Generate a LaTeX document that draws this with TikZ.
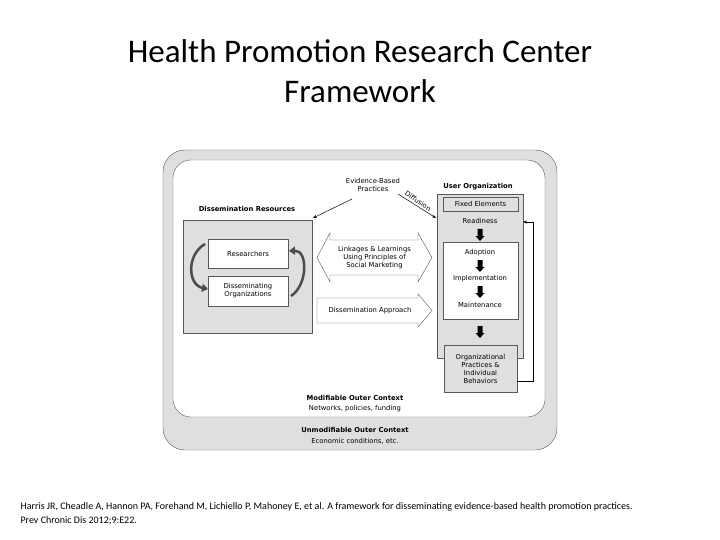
\documentclass[tikz,border=0pt]{standalone}
\usepackage{fontspec}
\setmainfont{DejaVu Sans}
\newfontfamily\titlefont{Carlito}
\usetikzlibrary{arrows.meta}
\tikzset{
 lbl/.style={font=\fontsize{6.8}{8}\selectfont,align=center,inner sep=0pt},
 blbl/.style={lbl,font=\fontsize{6.8}{8}\selectfont\bfseries},
 gbox/.style={draw=gray!70!black,fill=gray!25},
 wbox/.style={draw=gray!70!black,fill=white},
 tarr/.style={-{Stealth[length=4pt]},line width=0.5pt},
 blockarr/.style={draw=gray!70!black,fill=white}
}
\newcommand{\downarr}[2]{\fill (#1-2.5,#2) -- ++(5,0) -- ++(0,7) -- ++(2,0) -- (#1,#2+12) -- (#1-4.5,#2+7) -- ++(2,0) -- cycle;}
\begin{document}
\begin{tikzpicture}[x=1pt,y=-1pt]
\useasboundingbox (0,0) rectangle (720,540);
\node[font=\titlefont\fontsize{33}{40}\selectfont,align=center] (title) at (360,71) {Health Promotion Research Center\\Framework};
\draw[gray!70!black,fill=gray!25,rounded corners=22pt] (163,150) rectangle (557,450);
\draw[gray!70!black,fill=white,rounded corners=18pt] (173,160) rectangle (545,417);
\node[blbl] (mod) at (355,398) {Modifiable Outer Context};
\node[lbl] (modt) at (355,409) {Networks, policies, funding};
\node[blbl] (unm) at (355,430) {Unmodifiable Outer Context};
\node[lbl] (unmt) at (355,441) {Economic conditions, etc.};
% dissemination resources
\node[blbl] (drl) at (247,209) {Dissemination Resources};
\draw[gbox] (183,220) rectangle (312,333);
\node[wbox,minimum width=80pt,minimum height=29pt,lbl] (res) at (248,253.5) {Researchers};
\node[wbox,minimum width=80pt,minimum height=30pt,lbl] (dorg) at (248,291) {Disseminating\\Organizations};
\draw[gray!60!black,line width=2.5pt,-{Triangle[length=6pt,width=8pt]}] (205,244) .. controls (186,255) and (188,285) .. (208,289);
\draw[gray!60!black,line width=2.5pt,-{Triangle[length=6pt,width=8pt]}] (291,296) .. controls (308,285) and (308,250) .. (289,251);
% evidence
\node[lbl] (ebp) at (373,185) {Evidence-Based\\Practices};
\node[blbl] (uol) at (478,187) {User Organization};
% user org
\draw[gbox] (437,194) rectangle (523,358);
\node[gbox,minimum width=75pt,minimum height=14pt,lbl] (fix) at (480.5,204) {Fixed Elements};
\node[lbl] (rdy) at (480,221) {Readiness};
\node[wbox,minimum width=75pt,minimum height=77pt] (wb) at (480.5,280.5) {};
\node[lbl] (ado) at (480,253) {Adoption};
\node[lbl] (imp) at (480,279) {Implementation};
\node[lbl] (mnt) at (480,305) {Maintenance};
\node[gbox,minimum width=73pt,minimum height=47pt,lbl] (opb) at (480.5,368.5) {Organizational\\Practices \&\\Individual\\Behaviors};
\downarr{480}{229}
\downarr{480}{260}
\downarr{480}{286}
\downarr{480}{326}
\coordinate (fb1) at (533,381);
\coordinate (fb2) at (533,222);
\coordinate (fb3) at (523,222);
\draw[tarr] (opb.east |- fb1) -- (fb1) -- (fb2) -- (fb3);
\draw[tarr] (352,199) -- (313,218);
\draw[tarr] (398,194) -- (436,218);
\node[lbl,rotate=-35] (dif) at (418,201) {Diffusion};
% block arrows
\draw[blockarr] (317,257.5) -- (330,233) -- (330,240) -- (418,240) -- (418,233) -- (432,257.5) -- (418,282) -- (418,275) -- (330,275) -- (330,282) -- cycle;
\node[lbl] (lat) at (374.5,257.5) {Linkages \& Learnings\\Using Principles of\\Social Marketing};
\draw[blockarr] (317,298) -- (418,298) -- (418,294) -- (432,310.5) -- (418,327) -- (418,323) -- (317,323) -- cycle;
\node[lbl] (dat) at (370,310.5) {Dissemination Approach};
\node[font=\titlefont\fontsize{10}{14}\selectfont,align=left,anchor=north west] (cite) at (17,499) {Harris JR, Cheadle A, Hannon PA, Forehand M, Lichiello P, Mahoney E, et al. A framework for disseminating evidence-based health promotion practices.\\Prev Chronic Dis 2012;9:E22.};
\end{tikzpicture}
\end{document}
